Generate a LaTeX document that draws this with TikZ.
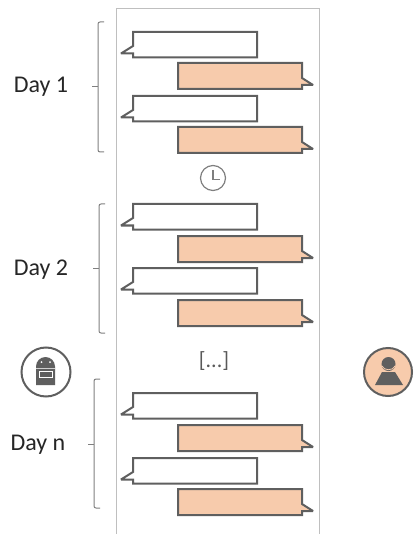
\documentclass[tikz,border=0pt]{standalone}
\usepackage{fontspec}
\setmainfont{Carlito}
\definecolor{peach}{HTML}{F7CBAC}
\definecolor{edge}{HTML}{5F5F5F}
\definecolor{frameg}{HTML}{BFBFBF}
\definecolor{brk}{HTML}{7F7F7F}
\tikzset{
  bubble/.style={draw=edge,line width=2pt,line join=miter,miter limit=3},
  daylabel/.style={font=\fontsize{24}{28}\selectfont,text=black!85,inner sep=0pt},
  bracketline/.style={draw=brk,line width=1pt},
}
\newcommand{\whitebub}[1]{%
  \draw[bubble,fill=white] (133,#1) -- (257,#1) -- (257,#1+25.5) -- (133,#1+25.5) -- (133,#1+21.5) -- (121,#1+21.5) -- (133,#1+14) -- cycle;}
\newcommand{\peachbub}[1]{%
  \draw[bubble,fill=peach] (178,#1) -- (302,#1) -- (302,#1+15) -- (313,#1+22) -- (302,#1+22) -- (302,#1+26) -- (178,#1+26) -- cycle;}
\newcommand{\daybrk}[4]{% x, top, bottom, tickY
  \draw[bracketline,rounded corners=2pt] (#1+6,#2) -- (#1,#2) -- (#1,#3) -- (#1+6,#3);
  \draw[bracketline] (#1-6,#4) -- (#1,#4);}
\begin{document}
\begin{tikzpicture}[x=1pt,y=-1pt]
\useasboundingbox (0,0) rectangle (414,534);
\draw[frameg,line width=1pt] (116,534) -- (116,9) -- (319,9) -- (319,534);
\foreach \y in {32,96,204,268,393,458} {\whitebub{\y}}
\foreach \y in {63,127,236,300,425,489} {\peachbub{\y}}
\daybrk{98}{22}{152}{87}
\daybrk{99}{204}{333}{268}
\daybrk{94}{379}{508}{444}
\node[daylabel] (d1) at (41,87) {Day 1};
\node[daylabel] (d2) at (41,270) {Day 2};
\node[daylabel] (dn) at (38,445) {Day n};
% clock
\node[circle,draw=brk,line width=1.2pt,minimum size=25pt,inner sep=0pt] (clock) at (213,178) {};
\draw[brk,line width=1.2pt] (213,170) -- (213,179.5) -- (220,179.5);
\node[text=black!65,font=\fontsize{22}{24}\selectfont,inner sep=0pt] (dots) at (214,361) {[...]};
% robot
\node[circle,draw=edge,line width=2pt,fill=white,minimum size=49pt,inner sep=0pt] (bot) at (46,372) {};
\fill[edge] (36,385) -- (36,366.5) arc[start angle=180,end angle=360,radius=9.5] -- (55,385) -- cycle;
\fill[white] (41.5,362) circle (1);
\fill[white] (50,362) circle (1);
\draw[white!70!edge,line width=0.6pt] (36,368) -- (55,368);
\draw[white,line width=0.9pt] (39,371.5) rectangle (52.5,377.5);
% user
\node[circle,draw=edge,line width=2pt,fill=peach,minimum size=48pt,inner sep=0pt] (usr) at (388,372) {};
\fill[edge] (388.5,364) circle (7);
\fill[edge] (382,372) -- (395,372) -- (403,385) -- (375,385) -- cycle;
\draw[peach,line width=0.8pt] (382,366) .. controls (384,371) and (393,371) .. (395,366);
\end{tikzpicture}
\end{document}
